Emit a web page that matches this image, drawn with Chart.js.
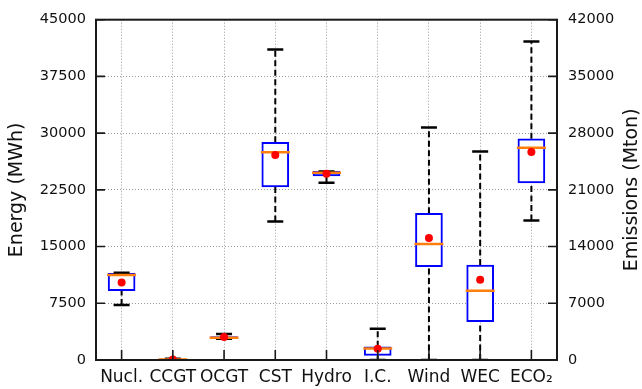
<!DOCTYPE html>
<html>
<head>
<meta charset="utf-8">
<script src="https://cdn.jsdelivr.net/npm/chart.js@4.4.1/dist/chart.umd.min.js"></script>
<style>
  body { margin: 0; background: #fff; }
  #wrap { width: 642px; height: 389px; }
</style>
</head>
<body>
<div id="wrap"><canvas id="boxChart"></canvas></div>
<script>
// data (ECO2 sits on the right "Emissions" axis)
const categories = ['Nucl.', 'CCGT', 'OCGT', 'CST', 'Hydro', 'I.C.', 'Wind', 'WEC', 'ECO\u2082'];
const onRightAxis = [false, false, false, false, false, false, false, false, true];
const whiskerLow  = [7280, 0, 2800, 18310, 23450, 0, 0, 0, 17220];
const q1          = [9160, 20, 2850, 22890, 24330, 610, 12330, 5060, 21860];
const median      = [11250, 60, 2950, 27470, 24760, 1530, 15350, 9160, 26210];
const q3          = [11470, 120, 3100, 28780, 24940, 1740, 19400, 12560, 27310];
const whiskerHigh = [11550, 150, 3450, 41070, 24940, 4140, 30740, 27560, 39300];
const means       = [10240, 80, 3050, 27120, 24630, 1480, 16130, 10600, 25680];
const energyTicks = [0, 7500, 15000, 22500, 30000, 37500, 45000];
const emissionTicks = [0, 7000, 14000, 21000, 28000, 35000, 42000];

const font = 'DejaVu Sans';
const rightTitle = 'Emissions (Mton)';

function pick(arr, right) {
    return arr.map((v, i) => onRightAxis[i] === right ? v : null);
}

function makeSets(axisId, right) {
    return [
        {
            type: 'bar',
            data: q1.map((v, i) => onRightAxis[i] === right ? [v, q3[i]] : null),
            yAxisID: axisId,
            backgroundColor: '#ffffff',
            borderColor: '#0000ff',
            borderWidth: 2,
            borderSkipped: false,
            barThickness: 27,
            grouped: false,
            order: 4
        },
        {
            type: 'line', data: pick(whiskerLow, right), yAxisID: axisId,
            showLine: false, pointStyle: 'line', pointRadius: 8,
            borderColor: '#000', pointBorderWidth: 2.5, order: 3
        },
        {
            type: 'line', data: pick(whiskerHigh, right), yAxisID: axisId,
            showLine: false, pointStyle: 'line', pointRadius: 8,
            borderColor: '#000', pointBorderWidth: 2.5, order: 3
        },
        {
            type: 'line', data: pick(median, right), yAxisID: axisId,
            showLine: false, pointStyle: 'line', pointRadius: 14.5,
            borderColor: '#ff7f0e', pointBorderWidth: 2.5, order: 2
        },
        {
            type: 'line', data: pick(means, right), yAxisID: axisId,
            showLine: false, pointStyle: 'circle', pointRadius: 4,
            backgroundColor: '#ff0000', borderColor: '#ff0000', pointBorderWidth: 0, order: 1
        }
    ];
}

// dashed whiskers behind the boxes
const whiskerPlugin = {
    id: 'whiskers',
    beforeDatasetsDraw(chart) {
        const c = chart.ctx;
        const xs = chart.scales.x;
        c.save();
        c.strokeStyle = '#000';
        c.lineWidth = 2;
        c.setLineDash([6, 3.5]);
        categories.forEach((cat, i) => {
            const ys = onRightAxis[i] ? chart.scales.y2 : chart.scales.y;
            const x = xs.getPixelForValue(i);
            c.beginPath();
            c.moveTo(x, ys.getPixelForValue(whiskerLow[i]));
            c.lineTo(x, ys.getPixelForValue(q1[i]));
            c.moveTo(x, ys.getPixelForValue(q3[i]));
            c.lineTo(x, ys.getPixelForValue(whiskerHigh[i]));
            c.stroke();
        });
        c.restore();
    }
};

// frame, inward ticks and the right axis title (reads bottom to top, like the left one)
const framePlugin = {
    id: 'frame',
    afterDraw(chart) {
        const c = chart.ctx;
        const a = chart.chartArea;
        c.save();
        c.strokeStyle = '#1a1a1a';
        c.lineWidth = 1.6;
        c.beginPath();
        chart.scales.y.ticks.forEach(t => {
            const y = chart.scales.y.getPixelForValue(t.value);
            c.moveTo(a.left, y); c.lineTo(a.left + 9, y);
        });
        chart.scales.y2.ticks.forEach(t => {
            const y = chart.scales.y2.getPixelForValue(t.value);
            c.moveTo(a.right, y); c.lineTo(a.right - 9, y);
        });
        categories.forEach((cat, i) => {
            const x = chart.scales.x.getPixelForValue(i);
            c.moveTo(x, a.bottom); c.lineTo(x, a.bottom - 10);
        });
        c.stroke();
        c.lineWidth = 2;
        c.strokeRect(a.left, a.top, a.right - a.left, a.bottom - a.top);

        c.translate(chart.width - 10, (a.top + a.bottom) / 2);
        c.rotate(-Math.PI / 2);
        c.fillStyle = '#111';
        c.font = '19px "' + font + '"';
        c.textAlign = 'center';
        c.textBaseline = 'middle';
        c.fillText(rightTitle, 0, 0);
        c.restore();
    }
};

const gridLook = { color: '#9a9a9a', lineWidth: 1, drawTicks: false };
const gridDash = { display: false, dash: [1, 2] };

const ctx = document.getElementById('boxChart').getContext('2d');
const boxChart = new Chart(ctx, {
    data: {
        labels: categories,
        datasets: [...makeSets('y', false), ...makeSets('y2', true)]
    },
    options: {
        responsive: true,
        maintainAspectRatio: false,
        animation: false,
        layout: { padding: { top: 16, left: 0, right: 0, bottom: 0 } },
        plugins: { legend: { display: false }, tooltip: { enabled: false } },
        scales: {
            x: {
                type: 'category',
                offset: true,
                grid: { ...gridLook, offset: false },
                border: gridDash,
                ticks: {
                    color: '#111', padding: 7, maxRotation: 0, minRotation: 0, autoSkip: false,
                    font: { family: font, size: 17 }
                },
                afterFit(scale) { scale.height = 29; }
            },
            y: {
                position: 'left',
                min: 0, max: 45000,
                afterBuildTicks(scale) { scale.ticks = energyTicks.map(v => ({ value: v })); },
                grid: gridLook,
                border: gridDash,
                ticks: {
                    color: '#111', padding: 10, font: { family: font, size: 14.5 },
                    callback: v => String(v)
                },
                title: {
                    display: true, text: 'Energy (MWh)', color: '#111',
                    font: { family: font, size: 19 }, padding: { top: 6, bottom: 0 }
                },
                afterFit(scale) { scale.width = 96; }
            },
            y2: {
                position: 'right',
                min: 0, max: 42000,
                afterBuildTicks(scale) { scale.ticks = emissionTicks.map(v => ({ value: v })); },
                grid: { display: false, drawTicks: false },
                border: { display: false },
                ticks: {
                    color: '#111', padding: 11, font: { family: font, size: 14.5 },
                    callback: v => String(v)
                },
                afterFit(scale) { scale.width = 85; }
            }
        }
    },
    plugins: [whiskerPlugin, framePlugin]
});
</script>
</body>
</html>
